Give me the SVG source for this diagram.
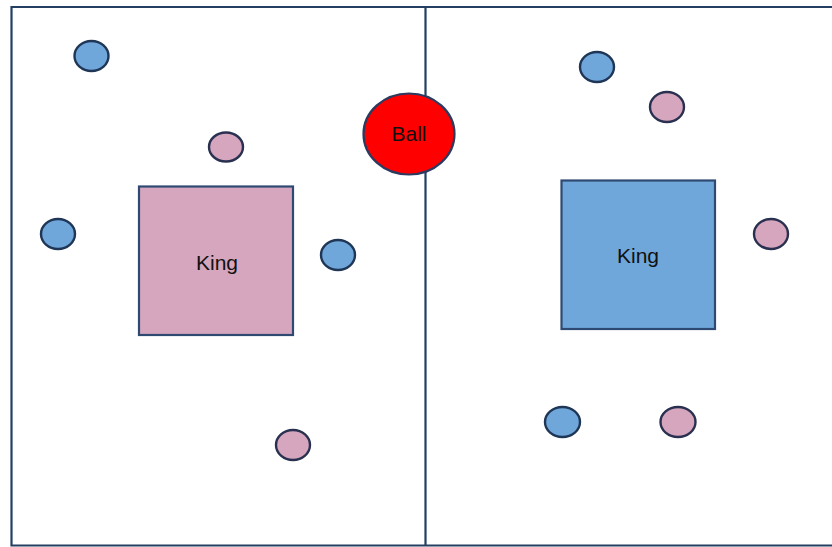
<svg xmlns="http://www.w3.org/2000/svg" width="832" height="547" viewBox="0 0 832 547">
<style>
.field{fill:none;stroke:#243f62;stroke-width:2.2}
.blue{fill:#6fa7db;stroke:#1f3656;stroke-width:2.4}
.pink{fill:#d5a6bd;stroke:#2a3150;stroke-width:2.4}
.king{stroke:#2f4a72;stroke-width:2.2}
.lbl{font-family:"Liberation Sans",Arial,sans-serif;font-size:21px;fill:#111;text-anchor:middle}
</style>
<rect width="832" height="547" fill="#fff"/>
<g id="field">
<path class="field" d="M834,7 H11.5 V545.5 H834 M425.5,7 V545.5"/>
</g>
<g id="connectors"></g>
<g id="king-left"><rect class="king" x="139" y="186.5" width="154" height="148.5" fill="#d5a6bd"/><text class="lbl" x="217" y="270">King</text></g>
<g id="king-right"><rect class="king" x="561.5" y="180.5" width="153.5" height="148.5" fill="#6fa7db"/><text class="lbl" x="638" y="263">King</text></g>
<g id="ball"><ellipse cx="409" cy="134" rx="45.5" ry="40.5" fill="#ff0000" stroke="#2c3a60" stroke-width="2.2"/><text class="lbl" x="409" y="141">Ball</text></g>
<g id="p1"><ellipse class="blue" cx="91.5" cy="56" rx="17" ry="15"/></g>
<g id="p2"><ellipse class="pink" cx="226" cy="147" rx="17" ry="14.5"/></g>
<g id="p3"><ellipse class="blue" cx="58" cy="234" rx="17" ry="15"/></g>
<g id="p4"><ellipse class="blue" cx="338" cy="255" rx="17" ry="15"/></g>
<g id="p5"><ellipse class="pink" cx="293" cy="445" rx="17" ry="15"/></g>
<g id="p6"><ellipse class="blue" cx="597" cy="67" rx="17" ry="15"/></g>
<g id="p7"><ellipse class="pink" cx="667" cy="107" rx="17" ry="15"/></g>
<g id="p8"><ellipse class="pink" cx="771" cy="234" rx="17" ry="15"/></g>
<g id="p9"><ellipse class="blue" cx="562.5" cy="422" rx="17.5" ry="15"/></g>
<g id="p10"><ellipse class="pink" cx="678" cy="422" rx="17.5" ry="15"/></g>
</svg>
